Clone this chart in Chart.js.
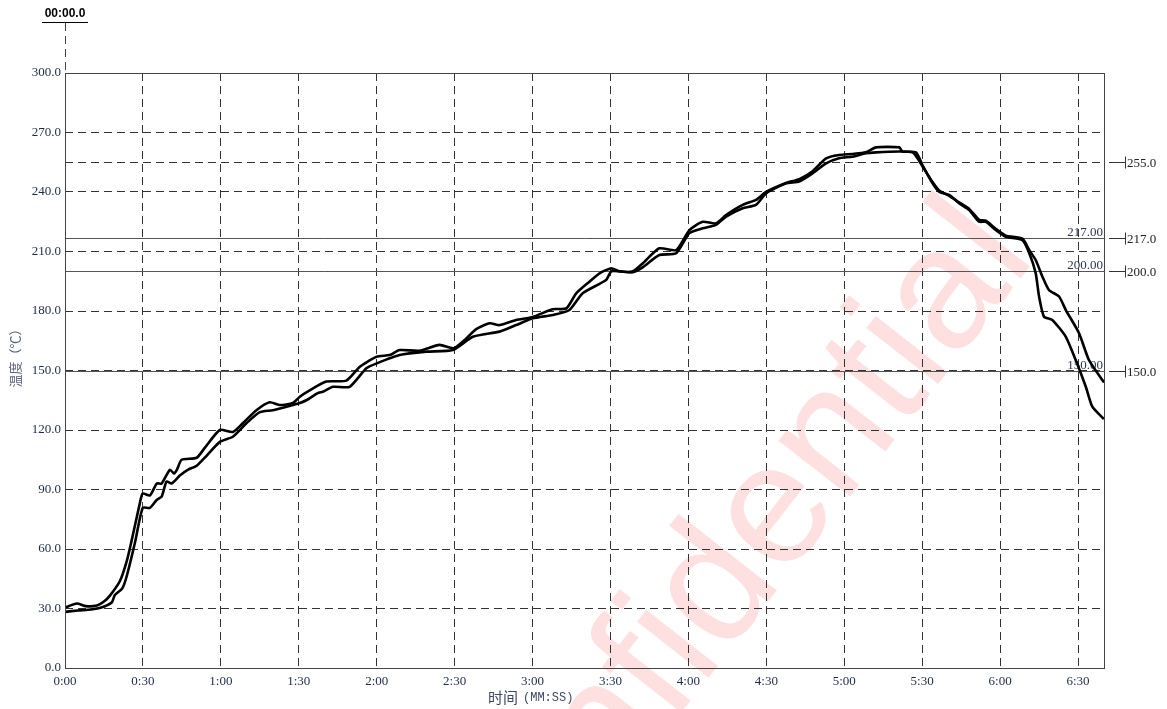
<!DOCTYPE html>
<html lang="zh">
<head>
<meta charset="UTF-8">
<title>温度曲线</title>
<script src="https://cdn.jsdelivr.net/npm/chart.js"></script>
<style>
  html, body { margin: 0; padding: 0; background: #fff; }
  #wrap { width: 1167px; height: 709px; }
</style>
</head>
<body>
<div id="wrap"><canvas id="profile" width="1167" height="709"></canvas></div>
<script>
// probe 1 (leading) - time in seconds, temperature in C
const time1 = [0,4.6,8,12.3,15,17.3,21.2,23.8,25.7,28.8,29.9,32.7,35.3,37.2,40.4,42,43.1,44.9,50.7,53.8,59.6,64.6,68.5,73.7,78.8,82.7,87.7,90.4,94.2,100.6,108.3,113.5,120,125,128.8,136.5,144.2,149.6,154.5,158.3,163.5,167.3,173.7,180.1,187.7,193,196.8,201.9,205.8,210.3,213.5,218.6,222.4,228.8,235.3,240.4,245.5,250.6,254.5,260.9,266,269.9,277.6,282.7,287.8,293,298,303.2,308.3,312.2,321.2,322.4,327.6,330.1,334,336.5,340.4,344.2,348.1,351.9,354.5,358.3,362.2,368.6,371.2,373.7,375,376.9,380.1,385.3,389.1,393,395.5,400];
const temp1 = [30.5,32.5,31.2,31.5,33.5,36.5,44,54,64.5,83,88,87,93,93,100,98,100,105,106,111,120,119,123.5,130,134,132.6,133.6,136.8,140,144.4,144.9,151.9,157,157.8,160.3,160,162.9,161.2,166.2,170.9,173.8,172.9,175.5,177,180.9,181.3,188.9,194.8,199,201.5,200,200,204,211.6,210.7,220.8,225,224.2,228.4,233.5,236,240,244.5,246.5,250.5,257,258.7,259.2,260,262.5,262.5,260.4,260,253.6,244.4,240.2,238.5,234.3,230.9,225,225,220.8,217.4,215.7,209.2,199.1,187.3,177.1,175.5,167,155.3,141.8,131.8,125.5];

// probe 2 (lagging)
const time2 = [0,5,10,14,18,19.2,22,23.7,26.9,29.9,32.7,35.3,37.2,39.1,41,44.2,47.4,50.7,54.5,59.6,64.6,69.9,75,80,87.7,90.4,92.9,97.3,99.3,103.2,109.6,116,120,128.8,139.1,149.3,157,167.3,173.7,180.1,187.8,194.2,199.3,208.3,210.3,213.5,218.6,222.4,228.8,235.3,240.4,245.5,250.6,254.5,260.9,266,269.9,277.6,282.7,287.8,293,298,303.2,308.3,312.2,321.2,326.3,328.2,330.1,334,336.5,340.4,344.2,348.1,351.9,354.5,358.3,362.2,368.6,371.2,373.7,376.3,378.8,382.7,385.3,390.4,394.2,400];
const temp2 = [28.3,29,29.5,30.5,33,36.8,40,46,63,80.7,80.7,84.7,86.4,94,93,97,100,102,107,114,116.6,123.5,129,130,132.6,133.6,135,138.6,139.3,141.8,141.8,151.1,153.6,157.8,159.5,160.3,167,169.6,172.9,176.3,178,180.5,189,195.6,200,200,199.5,202,208.2,209.1,219.3,221.7,223.4,227.6,231.8,233.5,239.3,244.4,245.3,249.4,254.4,257,257.8,259.5,260,260.4,260,257,253,245,240.8,238,234.8,231.5,226,225.5,221.5,218,216.5,210.8,205.7,197.3,190.6,187.3,180.5,168.8,155.3,144];

const xTicks = [0,30,60,90,120,150,180,210,240,270,300,330,360,390];
const yTicks = [0,30,60,90,120,150,180,210,240,270,300];
const markLines = [255,217,200,150];   // labelled on the right side
const limitLines = [217,200,150];      // solid lines with inside labels

const serif = '"Liberation Serif", "DejaVu Serif", serif';
const gridDash = [8, 5];

function mmss(v) {
  const m = Math.floor(v / 60), s = Math.round(v % 60);
  return m + ':' + String(s).padStart(2, '0');
}

const decor = {
  id: 'decor',
  beforeDraw(chart) {
    // watermark, under the grid
    const ctx = chart.ctx;
    ctx.save();
    ctx.translate(720, 586);
    ctx.rotate(-52 * Math.PI / 180);
    ctx.font = '172px "Liberation Sans", Arial, sans-serif';
    ctx.fillStyle = 'rgba(255, 0, 0, 0.12)';
    ctx.textAlign = 'center';
    ctx.textBaseline = 'middle';
    ctx.fillText('Confidential', 0, 0);
    ctx.restore();
  },
  beforeDatasetsDraw(chart) {
    const ctx = chart.ctx, a = chart.chartArea, y = chart.scales.y;
    ctx.save();
    ctx.lineWidth = 1;
    // dashed 255 line
    ctx.strokeStyle = '#333';
    ctx.setLineDash(gridDash);
    let yy = Math.round(y.getPixelForValue(255)) + 0.5;
    ctx.beginPath(); ctx.moveTo(a.left, yy); ctx.lineTo(a.right, yy); ctx.stroke();
    ctx.setLineDash([]);
    // solid limit lines with labels
    ctx.font = '13px ' + serif;
    ctx.textAlign = 'right';
    ctx.textBaseline = 'bottom';
    limitLines.forEach(v => {
      const py = Math.round(y.getPixelForValue(v)) + 0.5;
      ctx.strokeStyle = '#555';
      ctx.beginPath(); ctx.moveTo(a.left, py); ctx.lineTo(a.right, py); ctx.stroke();
      ctx.fillStyle = '#2b3552';
      ctx.fillText(v.toFixed(2), a.right - 1, py + 1);
    });
    ctx.restore();
  },
  afterDraw(chart) {
    const ctx = chart.ctx, a = chart.chartArea, y = chart.scales.y;
    ctx.save();
    // frame
    ctx.strokeStyle = '#444';
    ctx.lineWidth = 1;
    ctx.strokeRect(Math.round(a.left) + 0.5, Math.round(a.top) + 0.5,
                   Math.round(a.right - a.left), Math.round(a.bottom - a.top));
    // right side markers
    ctx.font = '13px ' + serif;
    ctx.textAlign = 'left';
    ctx.textBaseline = 'middle';
    markLines.forEach(v => {
      const py = Math.round(y.getPixelForValue(v)) + 0.5;
      ctx.strokeStyle = '#333';
      ctx.beginPath();
      ctx.moveTo(a.right + 5, py); ctx.lineTo(a.right + 21, py);
      ctx.moveTo(a.right + 21.5, py - 6); ctx.lineTo(a.right + 21.5, py + 6);
      ctx.stroke();
      ctx.fillStyle = '#222';
      ctx.fillText(v.toFixed(1), a.right + 23, py + 1);
    });
    // cursor header
    ctx.fillStyle = '#000';
    ctx.font = 'bold 12px "Liberation Sans", Arial, sans-serif';
    ctx.textAlign = 'center';
    ctx.textBaseline = 'alphabetic';
    ctx.fillText('00:00.0', a.left, 17);
    ctx.strokeStyle = '#000';
    ctx.beginPath(); ctx.moveTo(a.left - 23, 22.5); ctx.lineTo(a.left + 23, 22.5); ctx.stroke();
    ctx.strokeStyle = '#444';
    ctx.setLineDash(gridDash);
    ctx.beginPath(); ctx.moveTo(Math.round(a.left) + 0.5, 23); ctx.lineTo(Math.round(a.left) + 0.5, a.top); ctx.stroke();
    ctx.setLineDash([]);
    // axis titles
    ctx.fillStyle = '#3c4866';
    ctx.font = '15px "Noto Sans CJK SC", sans-serif';
    ctx.textAlign = 'left';
    ctx.textBaseline = 'middle';
    ctx.fillText('时间', 488, 697);
    ctx.font = '12px "Liberation Mono", "DejaVu Sans Mono", monospace';
    ctx.fillText('(MM:SS)', 523, 698);
    ctx.translate(15, 355);
    ctx.rotate(-Math.PI / 2);
    ctx.textAlign = 'center';
    ctx.fillStyle = '#5a6680';
    ctx.font = '13px "Noto Sans CJK SC", sans-serif';
    ctx.fillText('温度（℃）', 0, 0);
    ctx.restore();
  }
};

const toPoints = (xs, ys) => xs.map((t, i) => ({ x: t, y: ys[i] }));

new Chart(document.getElementById('profile'), {
  type: 'line',
  data: {
    datasets: [
      { label: 'TC1', data: toPoints(time1, temp1), borderColor: '#000', borderWidth: 2.6,
        pointRadius: 0, tension: 0.2, fill: false },
      { label: 'TC2', data: toPoints(time2, temp2), borderColor: '#000', borderWidth: 2.6,
        pointRadius: 0, tension: 0.2, fill: false }
    ]
  },
  options: {
    responsive: false,
    animation: false,
    devicePixelRatio: 1,
    layout: { padding: { left: 0, right: 63, top: 73, bottom: 0 } },
    plugins: { legend: { display: false }, tooltip: { enabled: false } },
    scales: {
      x: {
        type: 'linear', min: 0, max: 400,
        afterBuildTicks: s => { s.ticks = xTicks.map(v => ({ value: v })); },
        afterFit: s => { s.height = 41; },
        grid: { color: '#333', lineWidth: 1, drawTicks: false },
        border: { display: false, dash: gridDash },
        ticks: { padding: 6, color: '#1c2b4a', font: { family: serif, size: 13 },
                 maxRotation: 0, autoSkip: false, callback: v => mmss(v) }
      },
      y: {
        min: 0, max: 300,
        afterBuildTicks: s => { s.ticks = yTicks.map(v => ({ value: v })); },
        afterFit: s => { s.width = 65; },
        grid: { color: '#333', lineWidth: 1, drawTicks: false },
        border: { display: false, dash: gridDash },
        ticks: { padding: 4, color: '#1c2b4a', font: { family: serif, size: 13 },
                 callback: v => Number(v).toFixed(1) }
      }
    }
  },
  plugins: [decor]
});
</script>
</body>
</html>
